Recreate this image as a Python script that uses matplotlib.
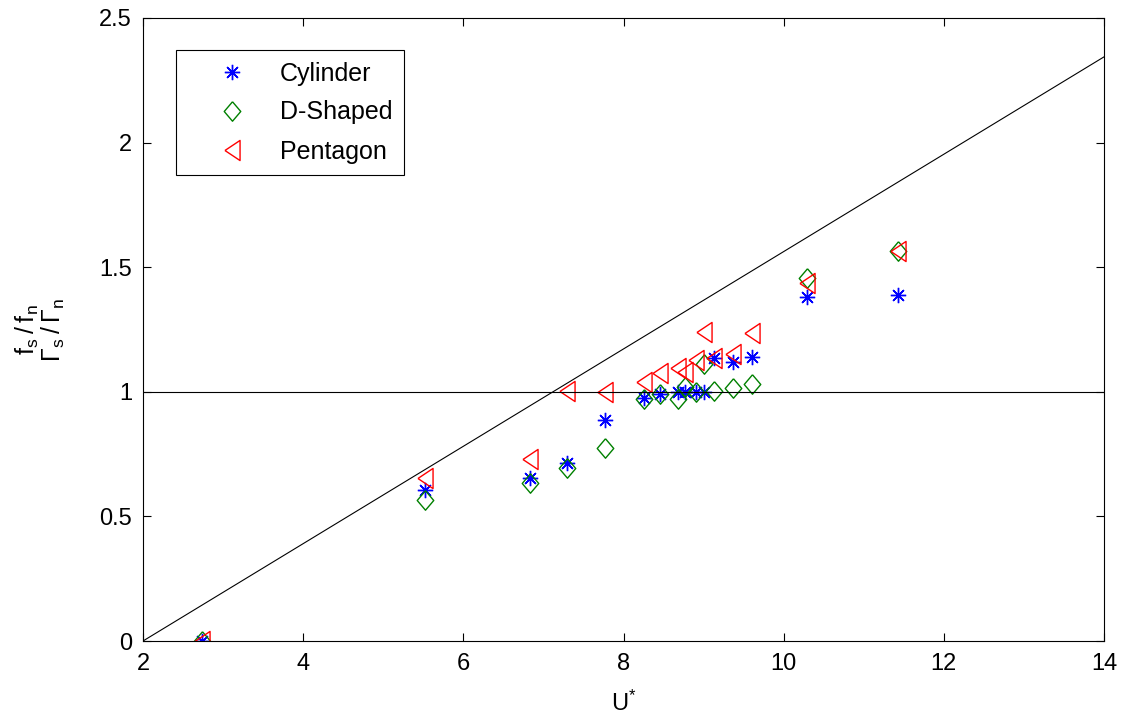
import matplotlib
matplotlib.use("Agg")
import matplotlib.pyplot as plt

plt.rcParams['font.family'] = ['Liberation Sans', 'DejaVu Sans']
plt.rcParams['mathtext.fontset'] = 'custom'
plt.rcParams['mathtext.rm'] = 'Liberation Sans'
plt.rcParams['mathtext.it'] = 'Liberation Sans:italic'

# Data
u_star = [2.74, 5.52, 6.83, 7.30, 7.77, 8.26, 8.46, 8.68, 8.77, 8.90, 9.00, 9.13, 9.37, 9.60, 10.29, 11.43]
cylinder = [0.0, 0.606, 0.654, 0.714, 0.885, 0.975, 0.99, 0.998, 0.998, 0.998, 1.0, 1.136, 1.12, 1.14, 1.38, 1.39]
d_shaped = [0.0, 0.566, 0.634, 0.694, 0.774, 0.97, 0.99, 0.97, 1.02, 0.998, 1.11, 1.004, 1.016, 1.03, 1.457, 1.565]
pentagon = [0.0, 0.654, 0.73, 1.003, 1.0, 1.04, 1.075, 1.095, 1.08, 1.128, 1.24, 1.136, 1.15, 1.235, 1.437, 1.565]

ref_line_x = [2, 14]
ref_line_y = [0, 2.344]
unity_x = [2, 14]
unity_y = [1, 1]

xticks = [2, 4, 6, 8, 10, 12, 14]
yticks = [0, 0.5, 1, 1.5, 2, 2.5]
ytick_labels = ['0', '0.5', '1', '1.5', '2', '2.5']

FS = 17

fig = plt.figure(figsize=(11.25, 7.19), dpi=100)
ax = fig.add_axes([143/1125, 1 - 641/719, (1104-143)/1125, (641-18)/719])

tri = [(-0.75, 0), (0.75, 1), (0.75, -1), (-0.75, 0)]
dia = [(0, 1), (0.85, 0), (0, -1), (-0.85, 0), (0, 1)]

ax.plot(u_star, cylinder, linestyle='none', marker=(8, 2, 0), markersize=11,
        markeredgewidth=1.0, color='#0000ff', label='Cylinder')
ax.plot(u_star, d_shaped, linestyle='none', marker=dia, markersize=14,
        markeredgewidth=1.0, markerfacecolor='none', markeredgecolor='#008000', label='D-Shaped')
ax.plot(u_star, pentagon, linestyle='none', marker=tri, markersize=14.5,
        markeredgewidth=1.0, markerfacecolor='none', markeredgecolor='#ff0000', label='Pentagon')

ax.plot(ref_line_x, ref_line_y, color='black', linewidth=0.8)
ax.plot(unity_x, unity_y, color='black', linewidth=0.8)

ax.set_xlim(2, 14)
ax.set_ylim(0, 2.5)
ax.set_xticks(xticks)
ax.set_yticks(yticks)
ax.set_xticklabels([str(t) for t in xticks])
ax.set_yticklabels(ytick_labels)
ax.tick_params(direction='in', length=6, width=0.8, top=True, right=True,
               labelsize=FS)
ax.tick_params(axis='x', pad=9)
ax.tick_params(axis='y', pad=8)
for s in ax.spines.values():
    s.set_linewidth(0.8)

ax.set_xlabel(r'U$^{*}$', fontsize=FS)
ax.xaxis.set_label_coords(0.5, -(716 - 641) / 623)
ax.xaxis.label.set_va('bottom')
ax.set_ylabel('$\\mathrm{f}_\\mathrm{s}\\:/\\:\\mathrm{f}_\\mathrm{n}$\n'
              '$\\Gamma_\\mathrm{s}\\:/\\:\\Gamma_\\mathrm{n}$',
              fontsize=18, linespacing=0.92)
ax.yaxis.set_label_coords(-(143 - 67) / 961, 0.5)

leg = ax.legend(loc='upper left', bbox_to_anchor=((176-143)/961, (641-50)/623),
                borderaxespad=0, fancybox=False, shadow=False, framealpha=1,
                edgecolor='black', fontsize=18, labelspacing=0.6, borderpad=0.46,
                handlelength=3.56, handletextpad=0.14, numpoints=1)
leg.get_frame().set_linewidth(0.8)

fig.savefig('out.png', dpi=100)
